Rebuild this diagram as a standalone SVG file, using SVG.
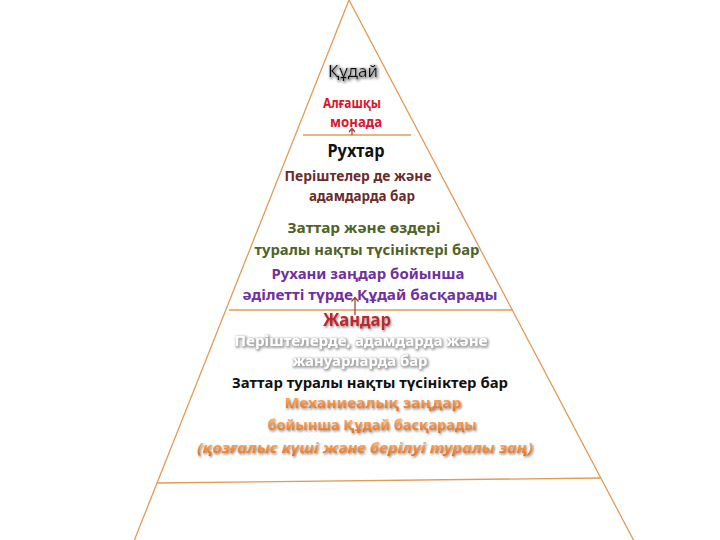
<svg xmlns="http://www.w3.org/2000/svg" width="720" height="540" viewBox="0 0 720 540">
<style>
text{font-family:"Noto Sans","Open Sans","DejaVu Sans",sans-serif;text-anchor:middle;font-weight:bold}
text.reg{font-weight:normal}
.ln{stroke:#E39A55;stroke-width:1.3;fill:none}
.ar{stroke:#A0342E;stroke-width:1.2;fill:none}
</style>
<defs>
<filter id="sh" x="-10%" y="-30%" width="120%" height="160%">
<feDropShadow dx="1" dy="1.5" stdDeviation="0.9" flood-color="#777" flood-opacity="0.85"/>
</filter>
<filter id="glow" x="-10%" y="-30%" width="120%" height="160%">
<feMorphology in="SourceAlpha" operator="dilate" radius="0.5" result="d"/>
<feGaussianBlur in="d" stdDeviation="0.8" result="b"/>
<feOffset in="b" dx="0.5" dy="1" result="o"/>
<feFlood flood-color="#a8a8a8"/>
<feComposite in2="o" operator="in" result="s"/>
<feMerge><feMergeNode in="s"/><feMergeNode in="SourceGraphic"/></feMerge>
</filter>
<linearGradient id="og" x1="0" y1="0" x2="0" y2="1">
<stop offset="0" stop-color="#FCC98C"/>
<stop offset="0.5" stop-color="#F79646"/>
<stop offset="1" stop-color="#E36C09"/>
</linearGradient>
</defs>
<rect width="720" height="540" fill="#fff"/>
<g id="connectors">
<polyline class="ln" points="134,541 349,0 634,541"/>
<line class="ln" x1="303" y1="135" x2="411" y2="135"/>
<line class="ln" x1="229" y1="310" x2="512" y2="310"/>
<line class="ln" x1="157" y1="483" x2="601" y2="478"/>
<path class="ar" d="M352,135 V129 M349,132 L352,128.5 L355,132"/>
<path class="ar" d="M355,315 V298 M351.5,301.5 L355,297.5 L358.5,301.5"/>
</g>
<g id="god"><text class="reg" x="353" y="77" font-size="17" fill="#111" textLength="50" lengthAdjust="spacingAndGlyphs" filter="url(#glow)">Құдай</text></g>
<g id="monad" fill="#D9152D">
<text x="352" y="108" font-size="14" textLength="58" lengthAdjust="spacingAndGlyphs">Алғашқы</text>
<text x="356" y="127" font-size="14" textLength="52" lengthAdjust="spacingAndGlyphs">монада</text>
</g>
<g id="spirits">
<text x="356" y="157" font-size="17" fill="#111" textLength="57" lengthAdjust="spacingAndGlyphs">Рухтар</text>
<text x="358" y="181" font-size="14" fill="#6B2C2C" textLength="147" lengthAdjust="spacingAndGlyphs">Періштелер де және</text>
<text x="362" y="201" font-size="14" fill="#6B2C2C" textLength="106" lengthAdjust="spacingAndGlyphs">адамдарда  бар</text>
<text x="364" y="233" font-size="15" fill="#4F6228" textLength="153" lengthAdjust="spacingAndGlyphs">Заттар және өздері</text>
<text x="367" y="255" font-size="15" fill="#4F6228" textLength="225" lengthAdjust="spacingAndGlyphs">туралы нақты түсініктері бар</text>
<text x="368" y="279" font-size="15" fill="#7030A0" textLength="193" lengthAdjust="spacingAndGlyphs">Рухани заңдар бойынша</text>
<text x="370" y="300" font-size="15" fill="#7030A0" textLength="255" lengthAdjust="spacingAndGlyphs">әділетті түрде Құдай басқарады</text>
</g>
<g id="souls">
<text x="357" y="326" font-size="17" fill="#C0282D" textLength="68" lengthAdjust="spacingAndGlyphs" filter="url(#sh)">Жандар</text>
<text x="361" y="346" font-size="15" fill="#fff" textLength="253" lengthAdjust="spacingAndGlyphs" filter="url(#glow)">Періштелерде, адамдарда және</text>
<text x="360" y="366" font-size="15" fill="#fff" textLength="135" lengthAdjust="spacingAndGlyphs" filter="url(#glow)">жануарларда бар</text>
<text x="370" y="388" font-size="15" fill="#111" textLength="276" lengthAdjust="spacingAndGlyphs">Заттар туралы нақты түсініктер бар</text>
</g>
<g id="mechanics" fill="url(#og)" filter="url(#sh)">
<text x="373" y="408" font-size="15" textLength="177" lengthAdjust="spacingAndGlyphs">Механиеалық заңдар</text>
<text x="372" y="430" font-size="15" textLength="209" lengthAdjust="spacingAndGlyphs">бойынша Құдай басқарады</text>
<text x="365" y="453" font-size="15" font-style="italic" textLength="336" lengthAdjust="spacingAndGlyphs">(қозғалыс күші және берілуі туралы заң)</text>
</g>
</svg>
